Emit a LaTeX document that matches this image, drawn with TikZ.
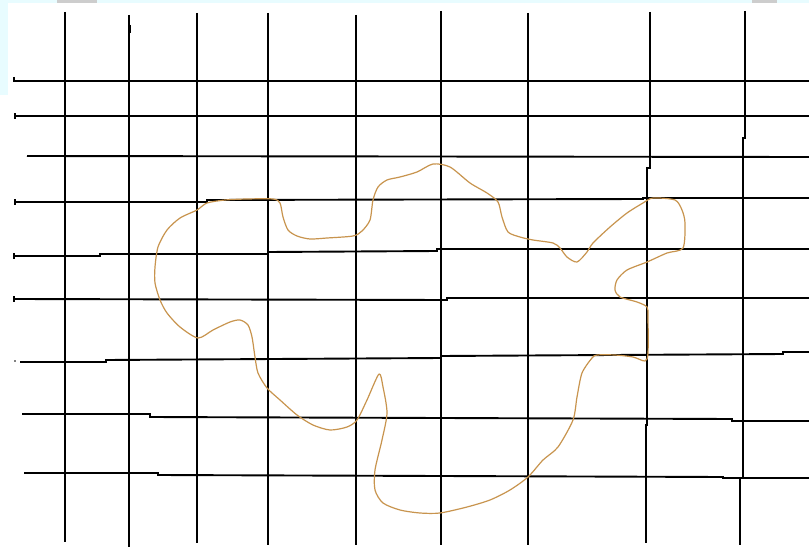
\documentclass[tikz,border=0pt]{standalone}
\usetikzlibrary{positioning}
\definecolor{blobline}{RGB}{200,148,78}
\definecolor{edgecyan}{RGB}{232,252,255}
\definecolor{edgegray}{RGB}{205,205,205}
\begin{document}
\begin{tikzpicture}[
  x=1pt, y=-1pt,
  gridline/.style={draw=black, line width=1.9pt},
  tickmark/.style={draw=black, line width=2.4pt},
  blob/.style={draw=blobline, line width=1.2pt, line join=round}
]
% page with faint scanner edge
\fill[white] (0,0) rectangle (809,551);
\fill[edgecyan] (0,0) rectangle (809,3);
\fill[edgecyan] (0,0) rectangle (8,95);
\fill[edgegray] (57,0) rectangle (97,3);
\fill[edgegray] (752,0) rectangle (777,3);
\useasboundingbox (0,0) rectangle (809,551);

% vertical lines
\draw[gridline] (65,12) -- (65,542);
\draw[gridline] (129,15) -- (129,547);
\draw[gridline] (197,13) -- (197,543);
\draw[gridline] (268,13) -- (268,545);
\draw[gridline] (356,15) -- (356,545);
\draw[gridline] (441,11) -- (441,545);
\draw[gridline] (528,13) -- (528,545);
\draw[gridline] (650,12) -- (650,168) -- (647,168) -- (647,425) -- (646,425) -- (646,543);
\draw[gridline] (745,11) -- (745,138) -- (743,138) -- (743,478) -- (740,478) -- (740,545);

% horizontal lines
\draw[gridline] (13,81) -- (809,81);
\draw[gridline] (14,116) -- (809,116);
\draw[gridline] (27,156) -- (809,157);
\draw[gridline] (14,202) -- (207,202) -- (207,200) -- (643,199) -- (643,198) -- (809,198);
\draw[gridline] (14,256) -- (100,256) -- (100,254) -- (268,254) -- (268,252) -- (437,251) -- (437,249) -- (809,249);
\draw[gridline] (14,299) -- (447,300) -- (447,298) -- (809,298);
\draw[gridline] (20,362) -- (106,362) -- (106,360) -- (441,358) -- (441,356) -- (783,354) -- (783,352) -- (809,352);
\draw[gridline] (22,414) -- (150,414) -- (150,417) -- (732,419) -- (732,421) -- (809,421);
\draw[gridline] (24,473) -- (158,473) -- (158,475) -- (723,477) -- (723,478) -- (809,478);

% small pen marks
\draw[tickmark] (14,77) -- (14,82);
\draw[tickmark] (45,81) -- (53,81);
\draw[tickmark] (15,113) -- (15,119);
\draw[tickmark] (15,199) -- (15,205);
\draw[tickmark] (14,253) -- (14,259);
\draw[tickmark] (14,296) -- (14,302);
\fill (15,361) circle (0.9pt);
\draw[tickmark] (130,25) -- (130,33);

% outline
\draw[blob] plot[smooth cycle, tension=0.45] coordinates {
  (247,199) (273,199) (280,203) (283,217) (288,230) (297,236) (310,239)
  (327,238) (353,236) (362,231) (370,220) (373,200) (378,187) (387,180)
  (400,177) (417,172) (433,164) (450,167) (470,183) (487,193) (498,202)
  (502,217) (508,232) (520,237) (533,240) (553,243) (560,248) (567,257)
  (577,262) (587,252) (593,243) (610,227) (627,213) (643,203) (653,198)
  (675,200) (682,210) (685,223) (683,248) (667,253) (647,262) (627,270)
  (617,280) (615,290) (620,297) (637,302) (647,307) (648,317) (648,353)
  (645,361) (633,357) (615,355) (597,355) (592,358) (582,373) (577,397)
  (573,420) (558,447) (543,460) (528,477) (510,490) (490,500) (467,507)
  (440,513) (420,513) (400,510) (383,503) (375,490) (375,470) (382,440)
  (387,413) (383,387) (379,374) (367,400) (357,420) (347,427) (330,430)
  (313,425) (297,415) (280,400) (267,388) (258,373) (255,357) (252,337)
  (248,325) (240,320) (230,322) (213,330) (198,338) (180,327) (167,313)
  (160,300) (155,283) (155,267) (158,247) (167,230) (180,218) (197,210)
  (207,203) (225,200)};
\end{tikzpicture}
\end{document}
